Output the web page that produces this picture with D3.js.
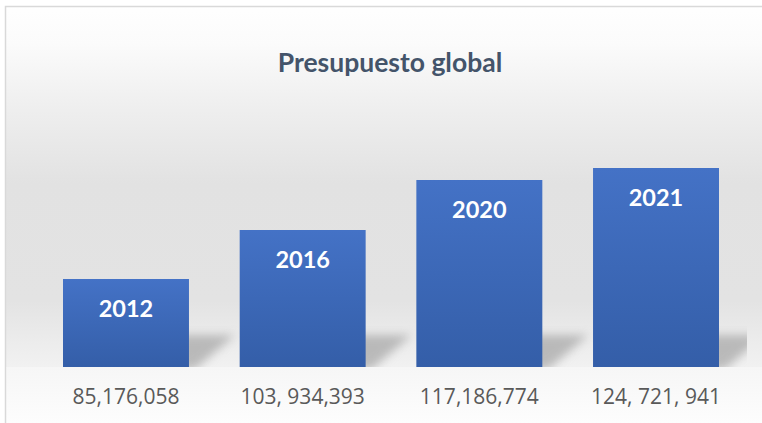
<!DOCTYPE html>
<html>
<head>
<meta charset="utf-8">
<script src="https://cdn.jsdelivr.net/npm/d3@7"></script>
<style>
  body { margin: 0; background: #fff; }
  svg { display: block; }
</style>
</head>
<body>
<div id="chart"></div>
<script>
// data
const years = ["2012", "2016", "2020", "2021"];
const budgetLabels = ["85,176,058", "103, 934,393", "117,186,774", "124, 721, 941"];
// bar heights as drawn (relative units, 0-100)
const barValues = [44, 68.5, 93.5, 99.5];

const W = 762, H = 423;
const margin = {top: 100, left: 63, right: 43, bottom: 56};
const baseY = H - margin.bottom; // 367

const svg = d3.select("#chart")
  .append("svg")
    .attr("width", W)
    .attr("height", H);

const defs = svg.append("defs");

// background: white at top, grey wall, light floor
const bg = defs.append("linearGradient")
    .attr("id", "bg").attr("x1", 0).attr("y1", 0).attr("x2", 0).attr("y2", baseY).attr("gradientUnits", "userSpaceOnUse");
[[0, "#ffffff"], [0.12, "#fbfbfb"], [0.3, "#eeeeee"], [0.5, "#e2e2e2"], [0.82, "#e3e3e3"], [0.93, "#ececec"], [1, "#f1f1f1"]]
  .forEach(s => bg.append("stop").attr("offset", s[0]).attr("stop-color", s[1]));

const floor = defs.append("linearGradient")
    .attr("id", "floor").attr("x1", 0).attr("y1", 0).attr("x2", 0).attr("y2", 1);
floor.append("stop").attr("offset", 0).attr("stop-color", "#f6f6f6");
floor.append("stop").attr("offset", 1).attr("stop-color", "#fdfdfd");

const barGrad = defs.append("linearGradient")
    .attr("id", "barGrad").attr("x1", 0).attr("y1", 0).attr("x2", 0).attr("y2", 1);
barGrad.append("stop").attr("offset", 0).attr("stop-color", "#4472c6");
barGrad.append("stop").attr("offset", 1).attr("stop-color", "#345ea8");

defs.append("filter")
    .attr("id", "blur").attr("x", "-50%").attr("y", "-50%").attr("width", "200%").attr("height", "200%")
  .append("feGaussianBlur").attr("stdDeviation", 5);

defs.append("clipPath").attr("id", "plotClip")
  .append("rect").attr("x", 0).attr("y", 0).attr("width", 747).attr("height", baseY);

// chart area with light border
svg.append("rect")
    .attr("x", 5.5).attr("y", 6.5)
    .attr("width", W + 10).attr("height", H + 10)
    .attr("fill", "url(#bg)")
    .attr("stroke", "#d9d9d9")
    .attr("stroke-width", 1.5);

svg.append("rect")
    .attr("x", 6.5).attr("y", baseY)
    .attr("width", W).attr("height", H - baseY)
    .attr("fill", "url(#floor)");

// title
svg.append("text")
    .attr("x", 390).attr("y", 72)
    .attr("text-anchor", "middle")
    .attr("font-family", "Lato, 'Open Sans', sans-serif")
    .attr("font-weight", "bold")
    .attr("font-size", 26.5)
    .attr("fill", "#44546a")
    .text("Presupuesto global");

const x = d3.scaleBand()
    .domain(years)
    .range([margin.left, W - margin.right])
    .paddingInner(0.287)
    .paddingOuter(0);

const y = d3.scaleLinear()
    .domain([0, 100])
    .range([baseY, baseY - 200]);

const data = years.map((yr, i) => ({year: yr, label: budgetLabels[i], value: barValues[i]}));

// perspective shadows behind bars
svg.append("g")
    .attr("clip-path", "url(#plotClip)")
  .selectAll("path")
  .data(data)
  .join("path")
    .attr("d", d => {
      const x1 = x(d.year) + x.bandwidth();
      return `M${x1 - 20},${baseY + 2} L${x1 + 6},${baseY + 2} L${x1 + 46},${baseY - 32} L${x1 - 20},${baseY - 32} Z`;
    })
    .attr("fill", "#9e9e9e")
    .attr("opacity", 0.65)
    .attr("filter", "url(#blur)");

// bars
svg.append("g")
  .selectAll("rect")
  .data(data)
  .join("rect")
    .attr("x", d => x(d.year))
    .attr("y", d => y(d.value))
    .attr("width", x.bandwidth())
    .attr("height", d => baseY - y(d.value))
    .attr("fill", "url(#barGrad)");

// year labels inside bars
svg.append("g")
  .selectAll("text")
  .data(data)
  .join("text")
    .attr("x", d => x(d.year) + x.bandwidth() / 2)
    .attr("y", d => y(d.value) + 38)
    .attr("text-anchor", "middle")
    .attr("font-family", "Lato, 'Open Sans', sans-serif")
    .attr("font-weight", "bold")
    .attr("font-size", 23.5)
    .attr("fill", "#ffffff")
    .text(d => d.year);

// budget labels under bars
svg.append("g")
  .selectAll("text")
  .data(data)
  .join("text")
    .attr("x", d => x(d.year) + x.bandwidth() / 2)
    .attr("y", baseY + 37)
    .attr("text-anchor", "middle")
    .attr("font-family", "'Open Sans', sans-serif")
    .attr("font-size", 21)
    .attr("fill", "#595959")
    .text(d => d.label);
</script>
</body>
</html>
